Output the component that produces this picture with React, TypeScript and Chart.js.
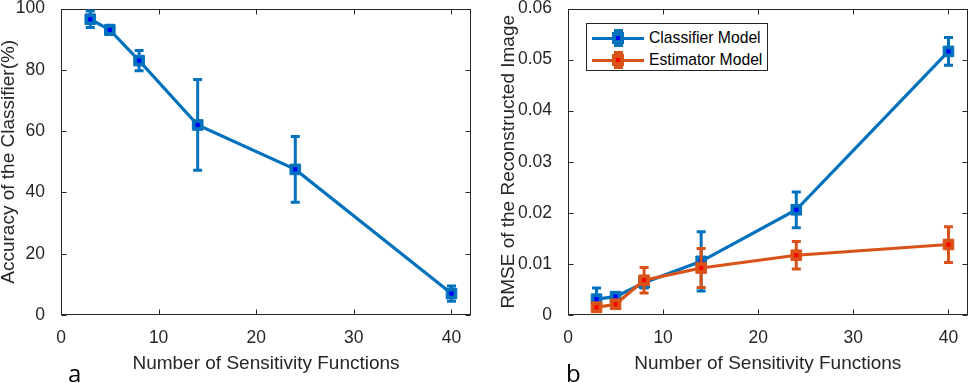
import React, { useEffect, useRef } from "react";
import { Chart, registerables } from "chart.js";
Chart.register(...registerables);

// ---- data ----
const nSens = [3, 5, 8, 14, 24, 40];
const accuracy = [96.5, 93, 83, 62, 47.5, 7];
const accuracyErr = [2.7, 1.5, 3.3, 14.8, 10.7, 2.5];
const rmseClassifier = [0.0031, 0.0036, 0.0063, 0.0105, 0.0206, 0.0516];
const rmseClassifierErr = [0.0022, 0.0006, 0.0010, 0.0058, 0.0035, 0.0027];
const rmseEstimator = [0.0015, 0.0021, 0.0068, 0.0092, 0.0117, 0.0138];
const rmseEstimatorErr = [0.0008, 0.0008, 0.0025, 0.0038, 0.0027, 0.0035];
const xTicks = [0, 10, 20, 30, 40];
const accTicks = [0, 20, 40, 60, 80, 100];
const rmseTicks = [0, 0.01, 0.02, 0.03, 0.04, 0.05, 0.06];
const rmseTickLabels = ["0", "0.01", "0.02", "0.03", "0.04", "0.05", "0.06"];
const seriesNames = ["Classifier Model", "Estimator Model"];

const BLUE = "#0072BD";
const ORANGE = "#D95319";
const TEXT = "#262626";
const FONT = "'Liberation Sans', Arial, Helvetica, sans-serif";

const toPts = (xs: number[], ys: number[]) => xs.map((x, i) => ({ x, y: ys[i] }));

const errorBarPlugin = {
  id: "errorBars",
  afterDatasetDraw(chart: any, args: any) {
    const ds = chart.data.datasets[args.index];
    if (!ds.errors) return;
    const { ctx } = chart;
    const xs = chart.scales.x;
    const ys = chart.scales.y;
    ctx.save();
    ctx.strokeStyle = ds.borderColor;
    ctx.lineWidth = 3;
    ctx.lineCap = "butt";
    ds.data.forEach((p: any, i: number) => {
      const e = ds.errors[i];
      const px = xs.getPixelForValue(p.x);
      const y1 = ys.getPixelForValue(p.y - e);
      const y2 = ys.getPixelForValue(p.y + e);
      ctx.beginPath();
      ctx.moveTo(px, y1);
      ctx.lineTo(px, y2);
      ctx.moveTo(px - 4.5, y1);
      ctx.lineTo(px + 4.5, y1);
      ctx.moveTo(px - 4.5, y2);
      ctx.lineTo(px + 4.5, y2);
      ctx.stroke();
    });
    ctx.restore();
  },
};

const framePlugin = {
  id: "frame",
  beforeDatasetsDraw(chart: any) {
    const { ctx, chartArea } = chart;
    const { left, right, top, bottom } = chartArea;
    const xs = chart.scales.x;
    const ys = chart.scales.y;
    const L = Math.round(left) + 0.5;
    const R = Math.round(right) - 0.5;
    const T = Math.round(top) + 0.5;
    const B = Math.round(bottom) - 0.5;
    ctx.save();
    ctx.strokeStyle = TEXT;
    ctx.lineWidth = 1;
    ctx.strokeRect(L, T, R - L, B - T);
    ctx.beginPath();
    xs.ticks.forEach((t: any) => {
      const px = Math.round(xs.getPixelForValue(t.value)) + 0.5;
      ctx.moveTo(px, B);
      ctx.lineTo(px, B - 5);
      ctx.moveTo(px, T);
      ctx.lineTo(px, T + 5);
    });
    ys.ticks.forEach((t: any) => {
      const py = Math.round(ys.getPixelForValue(t.value)) + 0.5;
      ctx.moveTo(L, py);
      ctx.lineTo(L + 5, py);
      ctx.moveTo(R, py);
      ctx.lineTo(R - 5, py);
    });
    ctx.stroke();
    ctx.restore();
  },
};

function lineDs(label: string, ys: number[], errs: number[], color: string, order: number) {
  return {
    label,
    order,
    data: toPts(nSens, ys),
    errors: errs,
    borderColor: color,
    backgroundColor: color,
    borderWidth: 3.2,
    pointStyle: "rect",
    pointRadius: 7.5,
    pointBorderWidth: 1,
    pointBorderColor: color,
    pointBackgroundColor: color,
    showLine: true,
    clip: false,
  };
}

function dotDs(ys: number[], color: string, order: number) {
  return {
    label: "",
    order,
    data: toPts(nSens, ys),
    borderColor: color,
    backgroundColor: color,
    pointBackgroundColor: color,
    pointBorderColor: color,
    showLine: false,
    pointStyle: "rect",
    pointRadius: 3,
    pointBorderWidth: 0,
    clip: false,
  };
}

function makeOptions(p: {
  yWidth: number;
  padTop: number;
  padRight: number;
  yMax: number;
  yTicks: number[];
  yLabels: (v: number, i: number) => string;
  yTitle: string;
  yTitlePad: number;
}) {
  return {
    responsive: false,
    animation: false,
    devicePixelRatio: 1,
    layout: { padding: { left: 0, top: p.padTop, right: p.padRight, bottom: 0 } },
    plugins: { legend: { display: false }, tooltip: { enabled: false } },
    scales: {
      x: {
        type: "linear",
        min: 0,
        max: 42,
        grid: { display: false },
        border: { display: false },
        afterBuildTicks: (s: any) => {
          s.ticks = xTicks.map((v) => ({ value: v }));
        },
        afterFit: (s: any) => {
          s.height = 68;
          s.paddingLeft = 0;
          s.paddingRight = 0;
        },
        ticks: {
          padding: 5,
          color: TEXT,
          maxRotation: 0,
          autoSkip: false,
          font: { family: FONT, size: 17.5 },
          callback: (v: any) => String(v),
        },
        title: {
          display: true,
          text: "Number of Sensitivity Functions",
          color: TEXT,
          font: { family: FONT, size: 19, lineHeight: 1 },
          padding: { top: 0, bottom: 9.5 },
        },
      },
      y: {
        type: "linear",
        min: 0,
        max: p.yMax,
        grid: { display: false },
        border: { display: false },
        afterBuildTicks: (s: any) => {
          s.ticks = p.yTicks.map((v) => ({ value: v }));
        },
        afterFit: (s: any) => {
          s.width = p.yWidth;
          s.paddingTop = 0;
          s.paddingBottom = 0;
        },
        ticks: {
          padding: 8,
          color: TEXT,
          autoSkip: false,
          font: { family: FONT, size: 17.5 },
          callback: (v: any, i: number) => p.yLabels(v, i),
        },
        title: {
          display: true,
          text: p.yTitle,
          color: TEXT,
          font: { family: FONT, size: 19, lineHeight: 1 },
          padding: { top: p.yTitlePad, bottom: 0 },
        },
      },
    },
  };
}

function LegendRow({ color, dot, label, top }: { color: string; dot: string; label: string; top: number }) {
  return (
    <div style={{ position: "absolute", left: 0, top, width: "100%", height: 0 }}>
      <div style={{ position: "absolute", left: 5, top: -1.5, width: 52, height: 3, background: color }} />
      <div style={{ position: "absolute", left: 31 - 1.5, top: -9, width: 3, height: 18, background: color }} />
      <div style={{ position: "absolute", left: 31 - 4.5, top: -9, width: 9, height: 3, background: color }} />
      <div style={{ position: "absolute", left: 31 - 4.5, top: 6, width: 9, height: 3, background: color }} />
      <div style={{ position: "absolute", left: 31 - 6, top: -6, width: 12, height: 12, background: color }} />
      <div style={{ position: "absolute", left: 31 - 2, top: -2, width: 4, height: 4, background: dot }} />
      <div
        style={{
          position: "absolute",
          left: 62,
          top: -10,
          height: 20,
          lineHeight: "20px",
          fontFamily: FONT,
          fontSize: 15.7,
          color: "#000",
          whiteSpace: "nowrap",
        }}
      >
        {label}
      </div>
    </div>
  );
}

export default function App() {
  const leftRef = useRef<HTMLCanvasElement>(null);
  const rightRef = useRef<HTMLCanvasElement>(null);

  useEffect(() => {
    const left = new Chart(leftRef.current as HTMLCanvasElement, {
      type: "line",
      data: {
        datasets: [lineDs("Accuracy", accuracy, accuracyErr, BLUE, 2), dotDs(accuracy, "#0000FF", 1)] as any,
      },
      options: makeOptions({
        yWidth: 61,
        padTop: 5,
        padRight: 19,
        yMax: 100,
        yTicks: accTicks,
        yLabels: (v) => String(v),
        yTitle: "Accuracy of the Classifier(%)",
        yTitlePad: -1,
      }) as any,
      plugins: [framePlugin, errorBarPlugin],
    });
    const right = new Chart(rightRef.current as HTMLCanvasElement, {
      type: "line",
      data: {
        datasets: [
          lineDs(seriesNames[0], rmseClassifier, rmseClassifierErr, BLUE, 4),
          dotDs(rmseClassifier, "#0000FF", 3),
          lineDs(seriesNames[1], rmseEstimator, rmseEstimatorErr, ORANGE, 2),
          dotDs(rmseEstimator, "#FF0000", 1),
        ] as any,
      },
      options: makeOptions({
        yWidth: 78,
        padTop: 6,
        padRight: 2,
        yMax: 0.06,
        yTicks: rmseTicks,
        yLabels: (_v, i) => rmseTickLabels[i],
        yTitle: "RMSE of the Reconstructed Image",
        yTitlePad: 9.5,
      }) as any,
      plugins: [framePlugin, errorBarPlugin],
    });
    return () => {
      left.destroy();
      right.destroy();
    };
  }, []);

  return (
    <div
      style={{
        position: "fixed",
        left: 0,
        top: 0,
        width: 976,
        height: 383,
        overflow: "hidden",
        background: "#fff",
      }}
    >
      <canvas ref={leftRef} width={490} height={383} style={{ position: "absolute", left: 0, top: 0 }} />
      <canvas ref={rightRef} width={486} height={383} style={{ position: "absolute", left: 490, top: 0 }} />
      <div
        style={{
          position: "absolute",
          left: 586,
          top: 23,
          width: 182,
          height: 48,
          boxSizing: "border-box",
          border: "1px solid #262626",
          background: "#fff",
        }}
      >
        <LegendRow color={BLUE} dot="#0000FF" label={seriesNames[0]} top={14} />
        <LegendRow color={ORANGE} dot="#FF0000" label={seriesNames[1]} top={36} />
      </div>
      <div
        style={{
          position: "absolute",
          left: 68,
          top: 361,
          fontFamily: "'Open Sans', 'DejaVu Sans', sans-serif",
          fontSize: 24,
          lineHeight: 1,
          color: "#000",
        }}
      >
        a
      </div>
      <div
        style={{
          position: "absolute",
          left: 566,
          top: 361,
          fontFamily: "'Open Sans', 'DejaVu Sans', sans-serif",
          fontSize: 24,
          lineHeight: 1,
          color: "#000",
        }}
      >
        b
      </div>
    </div>
  );
}
